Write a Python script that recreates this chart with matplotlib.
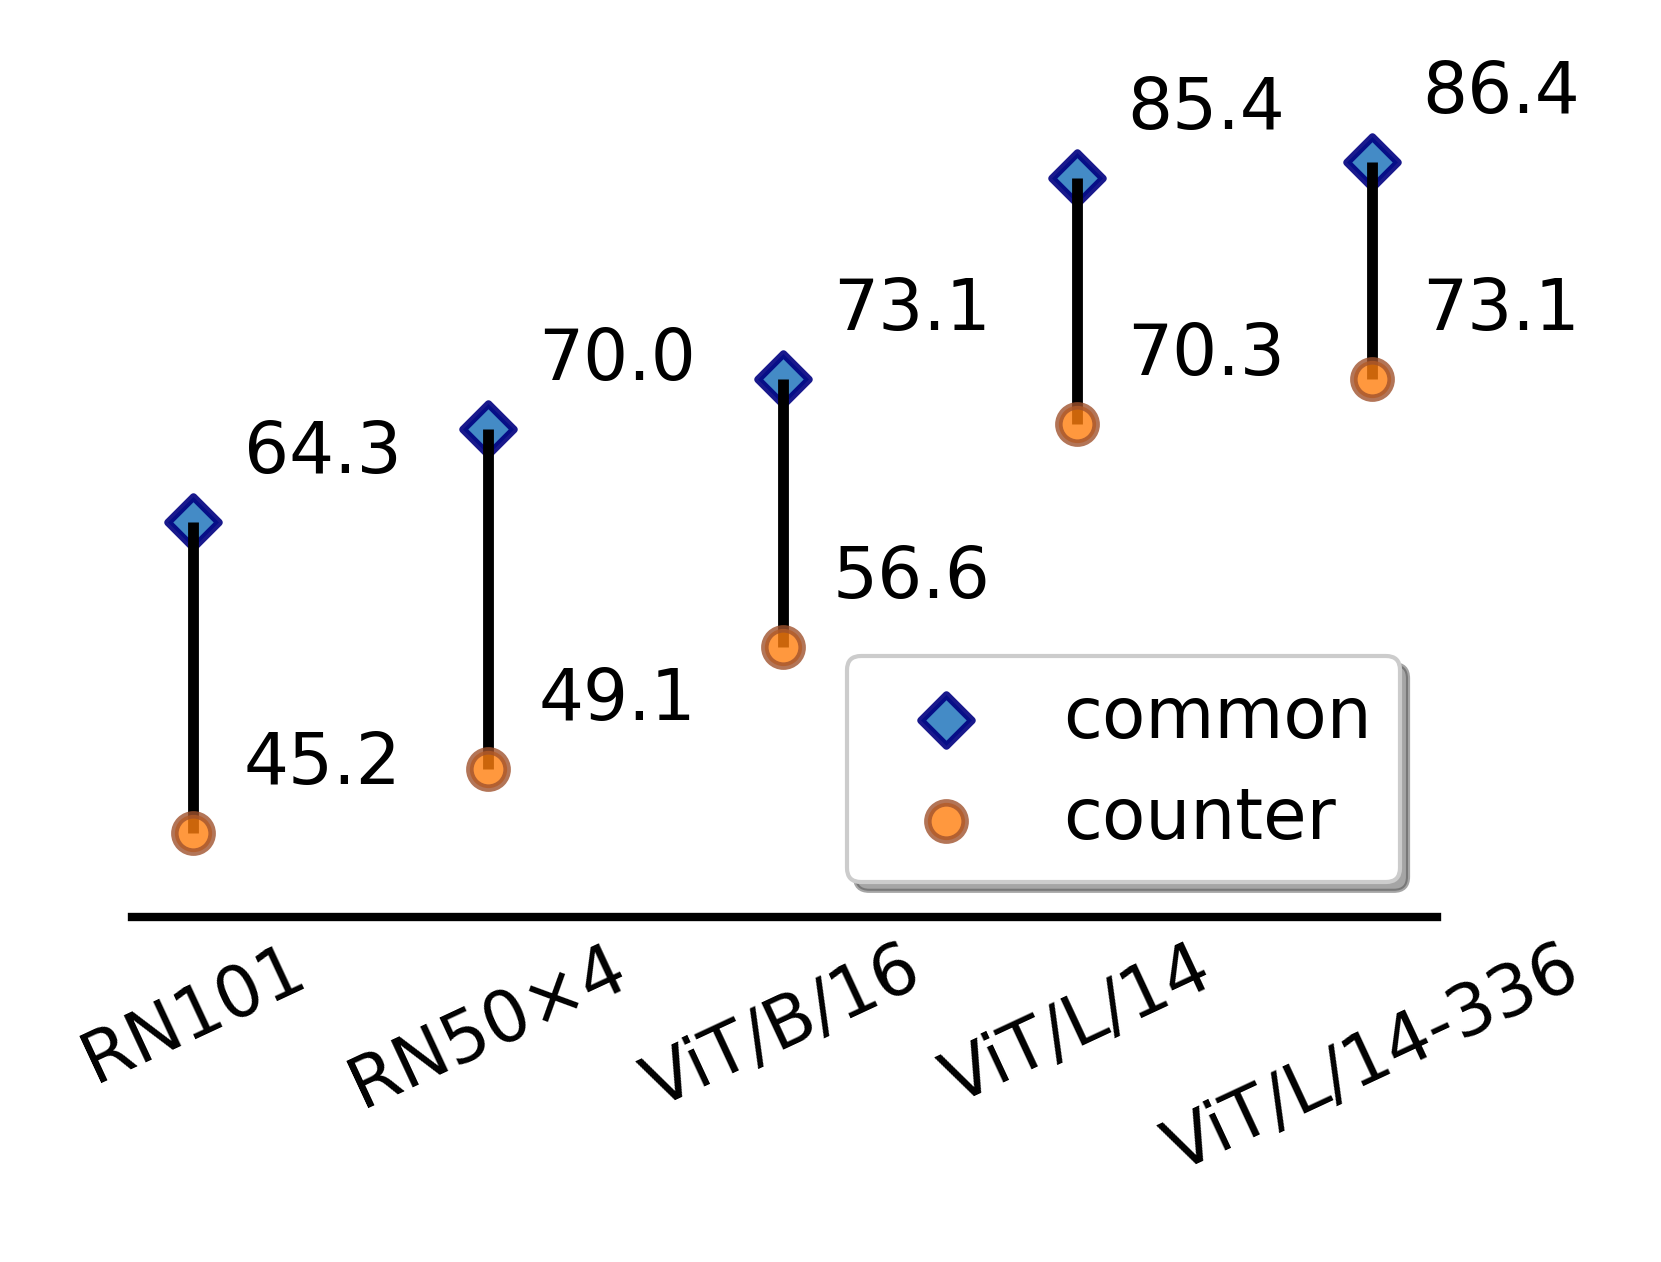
import matplotlib.pyplot as plt
import numpy as np

models = ['RN101', 'RN50×4', 'ViT/B/16', 'ViT/L/14', 'ViT/L/14-336']
common = [64.3, 70.0, 73.1, 85.4, 86.4]
counter = [45.2, 49.1, 56.6, 70.3, 73.1]

fig = plt.figure(figsize=(1661 / 300, 1262 / 300), dpi=300)
ax = fig.add_axes([0.0792, 0.273, 0.865 - 0.0792, 0.918 - 0.273])

x = np.arange(len(models))

# stems between the two accuracies
ax.vlines(x, counter, common, colors='black', linewidth=2.6, zorder=3)

ax.scatter(x, common, marker='D', s=75, color='#2f7fc0', edgecolors='navy',
           linewidths=1.8, alpha=0.9, label='common', zorder=2)
ax.scatter(x, counter, marker='o', s=80, color='#ff7f0e', edgecolors='#a0522d',
           linewidths=1.8, alpha=0.8, label='counter', zorder=4)

for i in range(len(models)):
    ax.text(x[i] + 0.17, common[i] + 4.2, '%.1f' % common[i], fontsize=17,
            va='center', ha='left')
    ax.text(x[i] + 0.17, counter[i] + 4.2, '%.1f' % counter[i], fontsize=17,
            va='center', ha='left')

ax.set_xlim(-0.21, 4.22)
ax.set_ylim(40, 90)
ax.set_xticks(x)
ax.set_xticklabels(models, rotation=25, ha='center', fontsize=17)
ax.tick_params(axis='x', length=0, pad=4)
ax.set_yticks([])
for side in ['top', 'right', 'left']:
    ax.spines[side].set_visible(False)
ax.spines['bottom'].set_linewidth(2)

ax.legend(loc='lower right', bbox_to_anchor=(0.9716, 0.043), borderaxespad=0,
          fontsize=17, shadow=True, fancybox=True, markerscale=1.0,
          handletextpad=0.65, labelspacing=0.45)

fig.savefig('out.png', dpi=300)
